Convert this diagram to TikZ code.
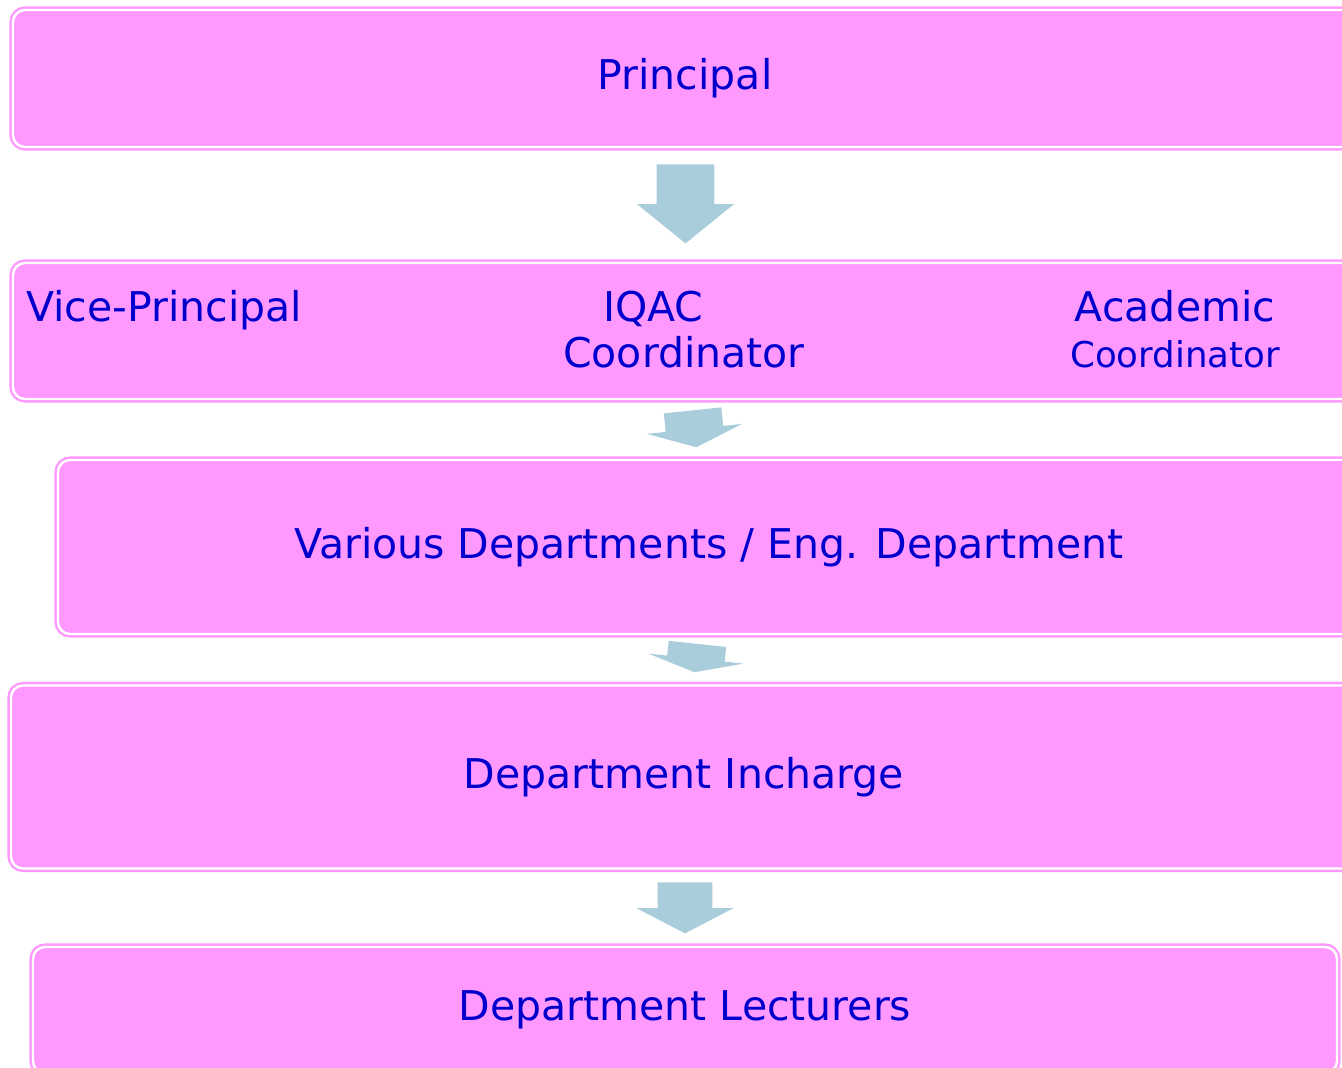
\documentclass[tikz,border=0pt]{standalone}
\usepackage{fontspec}
\setmainfont{DejaVu Sans}
\usepackage{tikz}
\usetikzlibrary{arrows,shapes}
\usetikzlibrary{positioning}
\definecolor{boxpink}{RGB}{255,153,255}
\definecolor{textblue}{RGB}{0,0,204}
\definecolor{arrowblue}{RGB}{170,205,220}
\tikzstyle{level} = [draw=boxpink, double=white, double distance=1.2pt, line width=1.2pt,
    fill=boxpink, rounded corners=6pt, rectangle, inner sep=0pt,
    text=textblue, font=\fontsize{20.5pt}{23pt}\selectfont]
\tikzstyle{label} = [inner sep=0pt, text=textblue, align=center,
    font=\fontsize{20.5pt}{23pt}\selectfont]
\tikzstyle{downarrow} = [single arrow, fill=arrowblue, draw=none, inner xsep=0pt,
    anchor=tail]

\begin{document}
\begin{tikzpicture}[x=0.5pt, y=0.5pt]
  \useasboundingbox (0,0) rectangle (1342,1067);
  \clip (0,0) rectangle (1342,1067);
  % Place boxes
  \node [level, minimum width=672pt, minimum height=68.5pt] (principal) at (685,988.5)
  {Principal};
  \node [level, minimum width=672pt, minimum height=68pt] (officers) at (685,736) {};
  \node [level, minimum width=651pt, minimum height=87pt] (depts) at (709,520)
  {Various Departments / Eng. Department};
  \node [level, minimum width=673pt, minimum height=91.5pt] (incharge) at (684,290)
  {Department Incharge};
  \node [level, minimum width=652pt, minimum height=63pt] (lecturers) at (685,57)
  {Department Lecturers};
  % Labels in the second box
  \node [label, anchor=base west] (vice) at (26,745) {Vice-Principal};
  \node [label] (iqac) at (684,737.5) {IQAC\hspace*{1.5em}\\Coordinator};
  \node [label] (academic) at (1175,737.5)
  {Academic\\{\fontsize{17.8pt}{23pt}\selectfont Coordinator}};
  % Arrows between levels
  \node [downarrow, rotate=-90, minimum height=39.5pt, inner ysep=14.25pt,
    single arrow head extend=9.75pt, single arrow tip angle=102] (a1) at (685.5,903) {};
  \node [downarrow, rotate=-84, minimum height=18.5pt, inner ysep=14.25pt,
    single arrow head extend=9.5pt, single arrow tip angle=138] (a2) at (692.5,657) {};
  \node [downarrow, rotate=-96, minimum height=14.25pt, inner ysep=14.25pt,
    single arrow head extend=9.5pt, single arrow tip angle=148] (a3) at (697.5,423.5) {};
  \node [downarrow, rotate=-90, minimum height=25.5pt, inner ysep=13.5pt,
    single arrow head extend=10.5pt, single arrow tip angle=125] (a4) at (685,185) {};
\end{tikzpicture}
\end{document}
